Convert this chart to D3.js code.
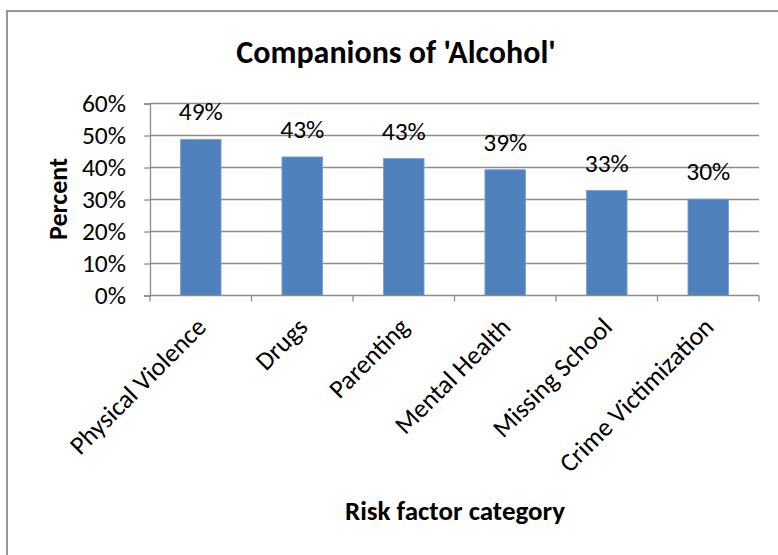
<!DOCTYPE html>
<html>
<head>
<meta charset="utf-8">
<script src="https://cdn.jsdelivr.net/npm/d3@7"></script>
<style>
    body { margin: 0; background: #fff; }
    text { font-family: Calibri, Carlito, Lato, sans-serif; fill: #000; }
</style>
</head>
<body>
<svg id="chart" width="778" height="555"></svg>
<script>
// categories and values
let categories = ["Physical Violence", "Drugs", "Parenting", "Mental Health", "Missing School", "Crime Victimization"];
let values = [48.8, 43.3, 42.8, 39.3, 32.8, 30.1];
let labels = ["49%", "43%", "43%", "39%", "33%", "30%"];
let yTicks = [0, 10, 20, 30, 40, 50, 60];

let svg = d3.select("#chart");

// outer frame, cut off by the window on the right and bottom
svg.append("rect")
    .attr("x", 7)
    .attr("y", 11)
    .attr("width", 800)
    .attr("height", 600)
    .attr("fill", "none")
    .attr("stroke", "#989898")
    .attr("stroke-width", 2);

let plot = {"left": 150, "right": 759, "top": 103.5, "bottom": 295.5};

let x = d3.scaleBand()
    .domain(categories)
    .range([plot.left, plot.right])
    .paddingInner(0.6)
    .paddingOuter(0.3);

let y = d3.scaleLinear()
    .domain([0, 60])
    .range([plot.bottom, plot.top]);

// gridlines
svg.append("g")
    .selectAll("line")
    .data(yTicks.filter(d => d > 0))
    .enter().append("line")
    .attr("x1", plot.left)
    .attr("x2", plot.right)
    .attr("y1", d => y(d))
    .attr("y2", d => y(d))
    .attr("stroke", "#8c8c8c")
    .attr("stroke-width", 1.3);

// bars
svg.append("g")
    .selectAll("rect")
    .data(values)
    .enter().append("rect")
    .attr("x", (d, i) => x(categories[i]))
    .attr("y", d => y(d))
    .attr("width", x.bandwidth())
    .attr("height", d => plot.bottom - y(d))
    .attr("fill", "#4f81bd")
    .attr("stroke", "#7a9fd0")
    .attr("stroke-width", 0.8);

// y axis
let yAxis = d3.axisLeft(y)
    .tickValues(yTicks)
    .tickFormat(d => d + "%")
    .tickSize(6)
    .tickPadding(18);

let gy = svg.append("g")
    .attr("transform", "translate(" + plot.left + ",0)")
    .call(yAxis);
gy.select(".domain").attr("stroke", "#8c8c8c").attr("stroke-width", 1.3);
gy.selectAll(".tick line").attr("stroke", "#8c8c8c").attr("stroke-width", 1.3);
gy.selectAll(".tick text")
    .attr("font-size", 25.5)
    .attr("font-family", "Calibri, Carlito, Lato, sans-serif")
    .attr("fill", "#000");

// x axis baseline with category separators
let sepX = d3.range(categories.length + 1).map(i => plot.left + i * x.step());
svg.append("line")
    .attr("x1", plot.left)
    .attr("x2", plot.right)
    .attr("y1", plot.bottom)
    .attr("y2", plot.bottom)
    .attr("stroke", "#8c8c8c")
    .attr("stroke-width", 1.3);
svg.append("g")
    .selectAll("line")
    .data(sepX)
    .enter().append("line")
    .attr("x1", d => d)
    .attr("x2", d => d)
    .attr("y1", plot.bottom)
    .attr("y2", plot.bottom + 6)
    .attr("stroke", "#8c8c8c")
    .attr("stroke-width", 1.3);

// category labels, rotated
svg.append("g")
    .selectAll("text")
    .data(categories)
    .enter().append("text")
    .attr("transform", d => "translate(" + (x(d) + x.bandwidth() / 2 + 7) + "," + (plot.bottom + 33) + ") rotate(-45)")
    .attr("text-anchor", "end")
    .attr("font-size", 26)
    .text(d => d);

// value labels
svg.append("g")
    .selectAll("text")
    .data(values)
    .enter().append("text")
    .attr("x", (d, i) => x(categories[i]) + x.bandwidth() / 2)
    .attr("y", d => y(d) - 19)
    .attr("text-anchor", "middle")
    .attr("font-size", 25.5)
    .text((d, i) => labels[i]);

// title
svg.append("text")
    .attr("x", 396)
    .attr("y", 63)
    .attr("text-anchor", "middle")
    .attr("font-size", 32)
    .attr("font-weight", "bold")
    .text("Companions of 'Alcohol'");

// axis titles
svg.append("text")
    .attr("transform", "translate(67,199) rotate(-90)")
    .attr("text-anchor", "middle")
    .attr("font-size", 26)
    .attr("font-weight", "bold")
    .text("Percent");

svg.append("text")
    .attr("x", 455)
    .attr("y", 520)
    .attr("text-anchor", "middle")
    .attr("font-size", 27)
    .attr("font-weight", "bold")
    .text("Risk factor category");
</script>
</body>
</html>
